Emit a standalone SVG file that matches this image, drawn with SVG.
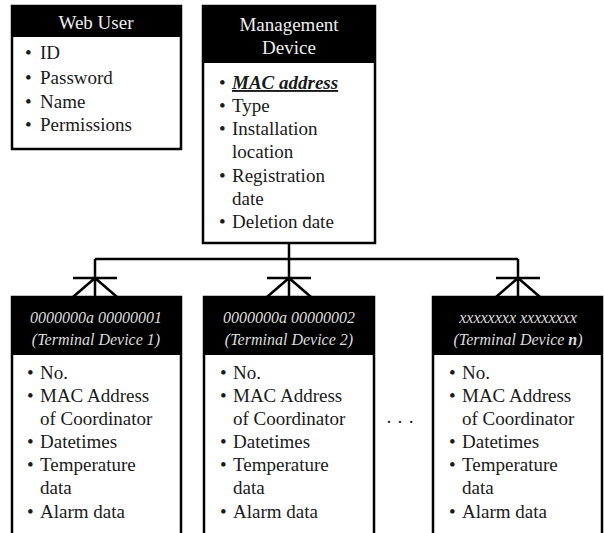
<svg xmlns="http://www.w3.org/2000/svg" width="604" height="533" viewBox="0 0 604 533">
<style>
.box{fill:#fff;stroke:#000;stroke-width:2.5}
.hdr{fill:#000}
.ht{font-family:"Liberation Serif","Times New Roman",serif;font-size:19px;fill:#eee;text-anchor:middle}
.hi{font-family:"Liberation Serif","Times New Roman",serif;font-size:16px;font-style:italic;fill:#ddd;text-anchor:middle}
.bt{font-family:"Liberation Serif","Times New Roman",serif;font-size:19px;fill:#1a1a1a}
.ln{stroke:#000;stroke-width:2.5;fill:none}
</style>
<rect width="604" height="533" fill="#fff"/>
<g id="web-user">
<rect class="box" x="12" y="6" width="169" height="143"/>
<rect class="hdr" x="12" y="6" width="169" height="31"/>
<text class="ht" x="96" y="29">Web User</text>
<text class="bt" x="25" y="59">•</text><text class="bt" x="40" y="59">ID</text>
<text class="bt" x="25" y="84">•</text><text class="bt" x="40" y="84">Password</text>
<text class="bt" x="25" y="108">•</text><text class="bt" x="40" y="108">Name</text>
<text class="bt" x="25" y="131">•</text><text class="bt" x="40" y="131">Permissions</text>
</g>
<g id="management-device">
<rect class="box" x="203" y="6" width="172" height="237"/>
<rect class="hdr" x="203" y="6" width="172" height="57"/>
<text class="ht" x="289" y="31">Management</text>
<text class="ht" x="289" y="54">Device</text>
<text class="bt" x="219" y="89">•</text><text class="bt" x="232" y="89" font-weight="bold" font-style="italic" text-decoration="underline">MAC address</text>
<text class="bt" x="219" y="112">•</text><text class="bt" x="232" y="112">Type</text>
<text class="bt" x="219" y="135">•</text><text class="bt" x="232" y="135">Installation</text>
<text class="bt" x="232" y="158">location</text>
<text class="bt" x="219" y="182">•</text><text class="bt" x="232" y="182">Registration</text>
<text class="bt" x="232" y="205">date</text>
<text class="bt" x="219" y="228">•</text><text class="bt" x="232" y="228">Deletion date</text>
</g>
<g id="terminal-1">
<rect class="box" x="12" y="297" width="169" height="250"/>
<rect class="hdr" x="12" y="297" width="169" height="58"/>
<text class="hi" x="96" y="323">0000000a 00000001</text>
<text class="hi" x="96" y="345">(Terminal Device 1)</text>
<text class="bt" x="27" y="379">•</text><text class="bt" x="40" y="379">No.</text>
<text class="bt" x="27" y="402">•</text><text class="bt" x="40" y="402">MAC Address</text>
<text class="bt" x="40" y="425">of Coordinator</text>
<text class="bt" x="27" y="448">•</text><text class="bt" x="40" y="448">Datetimes</text>
<text class="bt" x="27" y="471">•</text><text class="bt" x="40" y="471">Temperature</text>
<text class="bt" x="40" y="494">data</text>
<text class="bt" x="27" y="518">•</text><text class="bt" x="40" y="518">Alarm data</text>
</g>
<g id="terminal-2">
<rect class="box" x="204" y="297" width="170" height="250"/>
<rect class="hdr" x="204" y="297" width="170" height="58"/>
<text class="hi" x="289" y="323">0000000a 00000002</text>
<text class="hi" x="289" y="345">(Terminal Device 2)</text>
<text class="bt" x="220" y="379">•</text><text class="bt" x="233" y="379">No.</text>
<text class="bt" x="220" y="402">•</text><text class="bt" x="233" y="402">MAC Address</text>
<text class="bt" x="233" y="425">of Coordinator</text>
<text class="bt" x="220" y="448">•</text><text class="bt" x="233" y="448">Datetimes</text>
<text class="bt" x="220" y="471">•</text><text class="bt" x="233" y="471">Temperature</text>
<text class="bt" x="233" y="494">data</text>
<text class="bt" x="220" y="518">•</text><text class="bt" x="233" y="518">Alarm data</text>
</g>
<g id="ellipsis">
<text class="bt" x="400" y="428" text-anchor="middle">· · ·</text>
</g>
<g id="terminal-n">
<rect class="box" x="433" y="297" width="169" height="250"/>
<rect class="hdr" x="433" y="297" width="169" height="58"/>
<text class="hi" x="518" y="323">xxxxxxxx xxxxxxxx</text>
<text class="hi" x="518" y="345">(Terminal Device <tspan font-weight="bold">n</tspan>)</text>
<text class="bt" x="449" y="379">•</text><text class="bt" x="462" y="379">No.</text>
<text class="bt" x="449" y="402">•</text><text class="bt" x="462" y="402">MAC Address</text>
<text class="bt" x="462" y="425">of Coordinator</text>
<text class="bt" x="449" y="448">•</text><text class="bt" x="462" y="448">Datetimes</text>
<text class="bt" x="449" y="471">•</text><text class="bt" x="462" y="471">Temperature</text>
<text class="bt" x="462" y="494">data</text>
<text class="bt" x="449" y="518">•</text><text class="bt" x="462" y="518">Alarm data</text>
</g>
<g id="connectors">
<path class="ln" d="M289 243V259M95 259H518"/>
<path class="ln" d="M95 259V297M73 278H117M95 278L73 297M95 278L117 297"/>
<path class="ln" d="M289 259V297M267 278H311M289 278L267 297M289 278L311 297"/>
<path class="ln" d="M518 259V297M496 278H540M518 278L496 297M518 278L540 297"/>
</g>
</svg>
